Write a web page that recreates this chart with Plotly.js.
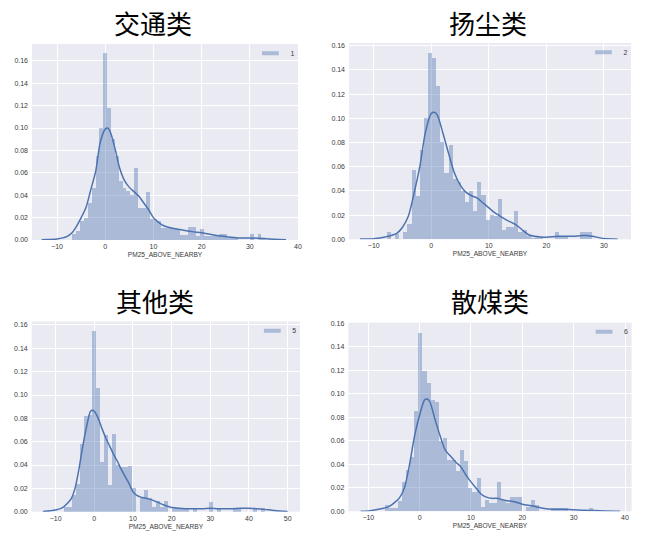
<!DOCTYPE html>
<html><head><meta charset="utf-8">
<script src="https://cdn.plot.ly/plotly-3.0.1.min.js"></script>
<style>html,body{margin:0;padding:0;background:#fff}#chart{width:648px;height:546px}</style>
</head><body><div id="chart"></div>
<script>
// ---- data ----
const titles = ['交通类', '扬尘类', '其他类', '散煤类'];
const legendNames = ['1', '2', '5', '6'];
const xTitle = 'PM25_ABOVE_NEARBY';
const yTicks = [0, 0.02, 0.04, 0.06, 0.08, 0.10, 0.12, 0.14, 0.16];

const hist1Start = -6.8, hist1Width = 0.8;
const hist1 = [0.005,0.008,0.017,0.02,0.033,0.046,0.075,0.10,0.167,0.118,
  0.09,0.075,0.053,0.046,0.044,0.04,0.064,0.029,0.029,0.043,
  0.019,0.019,0.017,0.011,0.011,0.011,0.011,0.01,0.0045,0.0045,
  0.012,0.012,0.004,0.0095,0.0036,0.0036,0.0036,0.0036,0.005,0.005,
  0.002,0.002,0.002,0,0,0,0.005,0,0.005,0.002];
const kde1X = [-13.2,-12,-10,-8,-7,-6,-5,-4,-3,-2,-1,0,0.5,1,2,3,4,5,6,7,8,9,10,11,12,14,16,18,20,22,24,26,28,30,32,34,36,37.5];
const kde1Y = [0.0003,0.0005,0.001,0.003,0.006,0.012,0.02,0.029,0.045,0.061,0.088,0.099,0.1,0.097,0.082,0.064,0.053,0.047,0.043,0.039,0.033,0.027,0.02,0.016,0.013,0.0105,0.009,0.0075,0.0065,0.005,0.0035,0.0025,0.0018,0.0018,0.0015,0.001,0.0005,0.0002];

const hist2Start = -7.72, hist2Width = 0.714;
const hist2 = [0.006,0,0.004,0,0.006,0.013,0.057,0.036,0.074,0.10,
  0.154,0.15,0.127,0.08,0.055,0.078,0.05,0.047,0.04,0.031,
  0.04,0.023,0.047,0.037,0.016,0.02,0.019,0.033,0.0077,0.0105,
  0.0105,0.023,0.0063,0.0077,0.0028,0.001,0.0015,0.002,0,0,
  0,0.006,0.003,0.003,0,0,0,0.006,0.006,0.006];
const kde2X = [-12.4,-10,-8,-6,-5,-4,-3,-2,-1,0,0.5,1,2,3,4,5,6,7,8,9,10,11,12,13,14,15,16,17,18,19,20,22,24,26,27,28,30,32.4];
const kde2Y = [0.0002,0.0005,0.002,0.005,0.01,0.019,0.038,0.06,0.089,0.104,0.105,0.103,0.088,0.071,0.055,0.045,0.039,0.036,0.034,0.03,0.026,0.022,0.019,0.016,0.0138,0.011,0.007,0.0036,0.0025,0.002,0.0017,0.0025,0.0025,0.003,0.0032,0.0025,0.0006,0.0001];

const hist3Start = -7.88, hist3Width = 1.04;
const hist3 = [0.004,0.004,0.014,0.024,0.058,0.082,0.083,0.155,0.106,0.043,
  0.066,0.023,0.067,0.04,0.038,0.038,0.039,0.02,0,0.012,
  0.019,0.012,0.004,0.009,0.004,0.009,0,0.002,0.0025,0.0025,
  0.003,0,0.003,0,0,0,0.008,0,0.003,0,
  0,0,0.003,0.003,0,0,0,0.003,0,0.003];
const kde3X = [-13.3,-10,-8,-7,-6,-5,-4,-3,-2,-1,-0.5,0,1,2,3,4,5,6,7,8,9,10,11,12,14,16,18,20,22,25,28,30,32,35,38,40,42,44,46,48,50];
const kde3Y = [0.0002,0.0014,0.004,0.007,0.011,0.02,0.036,0.056,0.073,0.086,0.087,0.086,0.08,0.071,0.063,0.056,0.049,0.043,0.036,0.03,0.024,0.017,0.014,0.0125,0.011,0.0086,0.0057,0.0037,0.003,0.0025,0.0026,0.003,0.0026,0.0025,0.003,0.003,0.0026,0.002,0.0012,0.0006,0.0002];

const hist4Start = -6.74, hist4Width = 0.81;
const hist4 = [0.005,0.003,0.003,0.009,0.025,0.035,0.046,0.085,0.152,0.119,
  0.109,0.095,0.093,0.06,0.062,0.044,0.044,0.034,0.052,0.043,
  0.02,0.016,0.028,0.004,0.0096,0.007,0.007,0.025,0.01,0.007,
  0.0125,0.0125,0.0125,0,0.004,0.01,0.0054,0,0,0,
  0.0025,0.003,0.003,0.003,0,0,0,0,0,0.003];
const kde4X = [-11.5,-10,-8,-6,-5,-4,-3,-2,-1,0,1,1.5,2,3,4,5,6,7,8,9,10,11,12,13,14,15,16,17,18,19,20,22,24,26,28,30,32,34,36,39];
const kde4Y = [0.0001,0.0003,0.0017,0.004,0.007,0.011,0.0196,0.039,0.064,0.082,0.095,0.0955,0.093,0.078,0.064,0.052,0.047,0.042,0.038,0.031,0.025,0.0196,0.0145,0.012,0.011,0.011,0.01,0.009,0.0085,0.0074,0.006,0.0045,0.0026,0.0017,0.0017,0.0012,0.0009,0.0006,0.0003,0.0001];

// ---- panels ----
const panels = [
  {start: hist1Start, w: hist1Width, h: hist1, kx: kde1X, ky: kde1Y, xr: [-15.2, 40], yr: [0, 0.175], xt: [-10,0,10,20,30,40],
   dx: [0.0494, 0.4599], dy: [0.5604, 0.9194], tx: 0.236, ty: 0.9597, lx: 0.462, ly: 0.929},
  {start: hist2Start, w: hist2Width, h: hist2, kx: kde2X, ky: kde2Y, xr: [-14.3, 34.7], yr: [0, 0.1622], xt: [-10,0,10,20,30],
   dx: [0.5386, 0.9738], dy: [0.5617, 0.9212], tx: 0.753, ty: 0.9597, lx: 0.976, ly: 0.931},
  {start: hist3Start, w: hist3Width, h: hist3, kx: kde3X, ky: kde3Y, xr: [-16.2, 53.2], yr: [0, 0.163], xt: [-10,0,10,20,30,40,50],
   dx: [0.0489, 0.4630], dy: [0.0628, 0.4112], tx: 0.239, ty: 0.4505, lx: 0.465, ly: 0.421},
  {start: hist4Start, w: hist4Width, h: hist4, kx: kde4X, ky: kde4Y, xr: [-13.9, 41.3], yr: [0, 0.1605], xt: [-10,0,10,20,30,40],
   dx: [0.5375, 0.9748], dy: [0.0636, 0.4090], tx: 0.756, ty: 0.4505, lx: 0.977, ly: 0.419}
];

const barColor = 'rgba(76,114,176,0.4)';
const lineColor = '#4C72B0';
const tickFont = {family: 'Liberation Sans, Arial, sans-serif', size: 7, color: '#3a3a3a'};

const traces = [];
const layout = {
  width: 648, height: 546,
  margin: {l: 0, r: 0, t: 0, b: 0},
  paper_bgcolor: '#ffffff',
  plot_bgcolor: '#EAEAF2',
  showlegend: true,
  annotations: [],
  bargap: 0
};

panels.forEach((p, i) => {
  const n = i + 1;
  const xa = 'x' + (n === 1 ? '' : n), ya = 'y' + (n === 1 ? '' : n);
  const legId = 'legend' + (n === 1 ? '' : n);
  const centers = p.h.map((_, k) => p.start + p.w * (k + 0.5));
  traces.push({
    type: 'bar', x: centers, y: p.h, width: p.w, xaxis: xa, yaxis: ya,
    marker: {color: barColor, line: {width: 0}}, name: legendNames[i],
    showlegend: false, hoverinfo: 'skip'
  });
  traces.push({
    type: 'scatter', mode: 'lines', x: p.kx, y: p.ky, xaxis: xa, yaxis: ya,
    line: {color: lineColor, width: 1.5, shape: 'spline', smoothing: 0.8},
    showlegend: false, hoverinfo: 'skip'
  });
  // legend-only entry (patch shaped like the seaborn legend handle)
  traces.push({
    type: 'scatter', mode: 'markers', x: [null], y: [null], xaxis: xa, yaxis: ya,
    name: legendNames[i], legend: legId, showlegend: true, hoverinfo: 'skip',
    marker: {symbol: 'line-ew', size: 12, color: barColor, line: {color: barColor, width: 4}}
  });
  const xkey = 'xaxis' + (n === 1 ? '' : n), ykey = 'yaxis' + (n === 1 ? '' : n);
  layout[xkey] = {
    domain: p.dx, range: p.xr, anchor: ya, tickvals: p.xt, ticks: '',
    showgrid: true, gridcolor: '#ffffff', gridwidth: 1, zeroline: false, showline: false,
    tickfont: tickFont, ticklabelstandoff: 1,
    title: {text: xTitle, font: {family: 'Liberation Sans, Arial, sans-serif', size: 6.6, color: '#3a3a3a'}, standoff: 3}
  };
  layout[ykey] = {
    domain: p.dy, range: p.yr, anchor: xa, tickvals: yTicks, tickformat: '.2f', ticks: '',
    showgrid: true, gridcolor: '#ffffff', gridwidth: 1, zeroline: false, showline: false,
    tickfont: tickFont, ticklabelstandoff: 3
  };
  layout[legId] = {
    x: p.lx, y: p.ly, xanchor: 'right', yanchor: 'top', bgcolor: 'rgba(0,0,0,0)',
    font: {family: 'Liberation Sans, Arial, sans-serif', size: 7, color: '#3a3a3a'},
    itemwidth: 30, tracegroupgap: 0
  };
  layout.annotations.push({
    text: titles[i], xref: 'paper', yref: 'paper', x: p.tx, y: p.ty,
    xanchor: 'center', yanchor: 'middle', showarrow: false,
    font: {family: 'Noto Sans CJK SC, sans-serif', size: 26, color: '#000000'}
  });
});

Plotly.newPlot('chart', traces, layout, {staticPlot: true, displayModeBar: false});
</script>
</body></html>
